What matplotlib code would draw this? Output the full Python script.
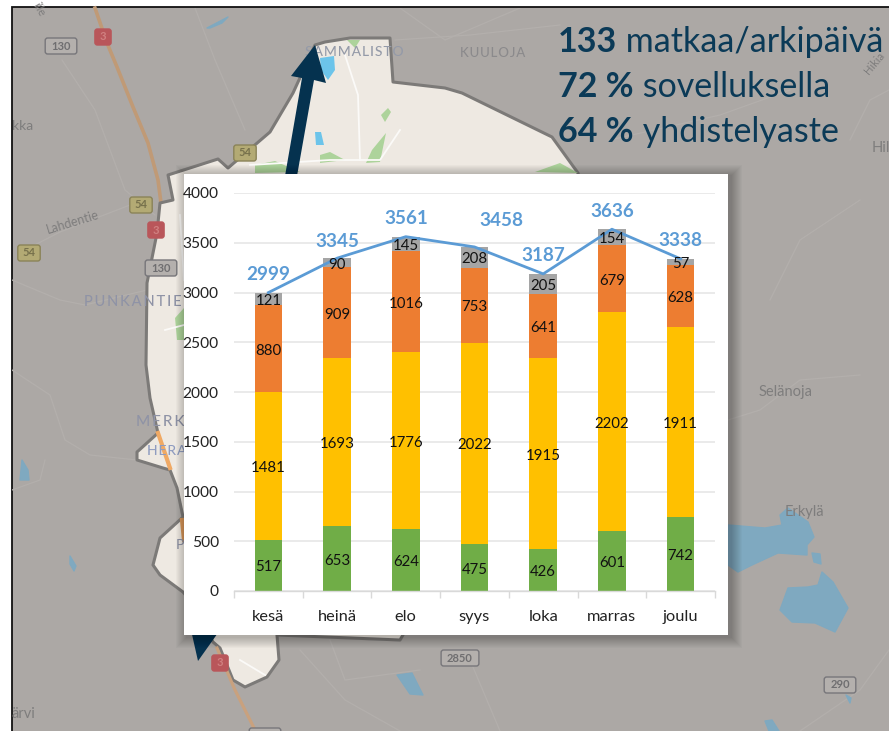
import matplotlib
matplotlib.use("Agg")
import matplotlib.pyplot as plt
from matplotlib.patches import Polygon, Rectangle, FancyBboxPatch

# ---------- chart data ----------
months = ["kesä", "heinä", "elo", "syys", "loka", "marras", "joulu"]
green = [517, 653, 624, 475, 426, 601, 742]
yellow = [1481, 1693, 1776, 2022, 1915, 2202, 1911]
orange = [880, 909, 1016, 753, 641, 679, 628]
gray = [121, 90, 145, 208, 205, 154, 57]
totals = [2999, 3345, 3561, 3458, 3187, 3636, 3338]
total_dx_px = [0, 0, 0, 27, 0, 0, 0]
total_dy_px = [18, 17, 18, 26, 18, 18, 18]
y_ticks = [0, 500, 1000, 1500, 2000, 2500, 3000, 3500, 4000]
headline = [("133", " matkaa/arkipäivä"), ("72 %", " sovelluksella"), ("64 %", " yhdistelyaste")]

# ---------- map decoration (image pixel coordinates) ----------
region = [(315,45),(325,42),(350,38),(390,38),(393,82),(445,88),(462,93),(552,137),(578,173),(600,300),
          (400,640),(277,635),(279,660),(267,677),(245,687),(233,680),(220,648),(213,642),(190,600),
          (183,592),(160,575),(153,565),(160,538),(183,517),(177,488),(170,470),(163,468),(137,460),
          (137,452),(158,433),(150,398),(146,365),(147,283),(157,233),(160,203),(173,200),(168,175),
          (218,159),(228,168),(270,132),(293,93)]
main_road = [(95,8),(107,43),(117,67),(133,107),(148,143),(158,180),(161,203)]
south_road = [(217,648),(235,690),(255,730)]
thin_roads = [
    [(195,8),(215,60),(245,130)], [(62,60),(95,110),(125,190),(155,215)], [(25,250),(60,232),(130,205)],
    [(12,280),(60,300),(85,305),(147,290)], [(12,370),(50,395),(65,440),(90,455),(137,460)],
    [(12,490),(40,480),(45,460)], [(400,8),(445,40),(520,8)], [(395,40),(470,35),(560,25)],
    [(728,420),(760,410),(800,380),(860,375)], [(300,650),(345,700),(400,731)], [(330,640),(345,680),(420,670)],
    [(470,660),(500,731)], [(800,731),(860,690),(889,650)], [(850,140),(870,100),(889,90)],
    [(610,140),(720,115),(790,90)], [(770,300),(800,240),(860,200)],
]
light_roads = [[(345,55),(358,95),(360,160)], [(250,165),(330,160),(380,160),(400,130)], [(180,215),(184,280)],
               [(165,330),(184,325)], [(240,660),(265,675)]]
lakes = [
    [(728,525),(765,528),(782,525),(780,515),(788,508),(808,522),(814,537),(807,545),(807,555),(778,553),(752,565),(738,572),(728,565)],
    [(822,572),(833,582),(848,608),(835,632),(815,623),(792,622),(780,610),(788,588),(808,587),(818,585)],
    [(812,553),(820,554),(821,564),(814,562)], [(397,675),(412,673),(423,695),(410,694)],
    [(765,721),(772,720),(779,731),(769,731)], [(846,695),(851,698),(850,703)],
    [(207,28),(228,17),(222,23),(210,28)], [(22,460),(28,470),(29,480),(20,480)], [(70,556),(76,566),(74,571),(70,564)],
]
bright_lakes = [[(320,58),(334,56),(335,70),(328,80),(321,70)], [(315,132),(321,132),(324,145),(316,145)]]
greens = [[(381,115),(388,108),(391,112),(385,122)], [(320,155),(330,152),(345,160),(320,163)],
          [(175,318),(184,308),(184,340),(177,340)], [(255,165),(275,161),(300,172),(255,173)], [(372,150),(386,133),(380,162),(366,163)],
          [(535,172),(560,163),(578,173)], [(347,40),(360,40),(355,48)]]
shields = [(61,46,"130","w"),(103,37,"3","r"),(141,205,"54","y"),(29,253,"54","y"),(245,153,"54","y"),
           (156,230,"3","r"),(161,268,"130","w"),(460,658,"2850","w"),(840,685,"290","w"),(220,663,"3","r"),(265,736,"","w")]
place_names = [(305,56,"S\u200aA\u200aM\u200aM\u200aA\u200aL\u200aI\u200aS\u200aT\u200aO",10,"#949aa8"),
               (460,57,"K\u200aU\u200aU\u200aL\u200aO\u200aJ\u200aA",9.5,"#8b8a8c"),
               (84,306,"P\u2009U\u2009N\u2009K\u2009A\u2009N\u2009T\u2009I\u2009E",10.5,"#8f93a6"),
               (136,426,"M\u2009E\u2009R\u2009K",11,"#8f93a6"),
               (147,455,"H\u200aE\u200aR\u200aA",10,"#8f9cc0"),(176,549,"P",10,"#8f93a6")]
map_labels = [(12,130,"kka",10,0),(48,234,"Lahdentie",9,17),(759,396,"Selänoja",10.5,0),(785,516,"Erkylä",10.5,0),
              (872,152,"Hil",10.5,0),(12,718,"ärvi",10.5,0),(869,75,"Hikia",8,50),(32,5,"ille",8,-60)]

plt.rcParams["font.family"] = ["Lato", "DejaVu Sans"]
fig = plt.figure(figsize=(8.89, 7.31), dpi=100, facecolor="white")
bg = fig.add_axes([0, 0, 1, 1])
bg.set_xlim(0, 889); bg.set_ylim(731, 0); bg.axis("off")

# map
bg.add_patch(Rectangle((11.5, 7), 880, 730, fc="#aca8a5", ec="#111111", lw=1.3, zorder=1))
clip = Rectangle((12, 8), 880, 730, transform=bg.transData)
for r in thin_roads:
    x, y = zip(*r); l, = bg.plot(x, y, color="#b3afac", lw=0.9, zorder=1.2); l.set_clip_path(clip)
for p in lakes:
    bg.add_patch(Polygon(p, closed=True, fc="#7fa9c0", ec="#7fa9c0", lw=1, joinstyle="round", zorder=1.3))
bg.add_patch(Polygon(region, closed=True, fc="#eee9e2", ec="#7c7a78", lw=2.2, joinstyle="round", zorder=1.5))
for p in greens:
    bg.add_patch(Polygon(p, closed=True, fc="#add39b", ec="none", zorder=1.6))
for r in light_roads:
    x, y = zip(*r); bg.plot(x, y, color="#fbfaf8", lw=1.3, zorder=1.6)
for p in bright_lakes:
    bg.add_patch(Polygon(p, closed=True, fc="#6cc4ea", ec="none", zorder=1.6))
x, y = zip(*main_road); bg.plot(x, y, color="#c09a76", lw=2.6, zorder=1.45)
x, y = zip(*south_road); bg.plot(x, y, color="#c9a17e", lw=2.3, zorder=1.7)
bg.plot([158, 170], [433, 468], color="#f0a964", lw=3, zorder=1.7)
bg.plot([182, 184], [520, 540], color="#d89858", lw=3, zorder=1.7)

for sx, sy, s, k in shields:
    fc, ec, tc = {"w": ("#b4b0ad", "#77767a", "#6f6e70"), "r": ("#b9565a", "#b9565a", "#d08080"),
                  "y": ("#b3aa74", "#8a8358", "#77714c")}[k]
    w = 7 + 6.2 * max(len(s), 3 if k == "w" else 1) + (6 if k == "w" else 3)
    bg.add_patch(FancyBboxPatch((sx - w / 2 + 2, sy - 6), w - 4, 12, boxstyle="round,pad=2,rounding_size=2.5",
                                fc=fc, ec=ec, lw=1, zorder=2))
    if s:
        bg.text(sx, sy, s, ha="center", va="center", fontsize=8, fontweight="bold", color=tc, zorder=2.1)
for tx, ty, s, fs, c in place_names:
    bg.text(tx, ty, s, fontsize=fs, color=c, ha="left", va="baseline", zorder=2.2, fontweight="medium")
for tx, ty, s, fs, rot in map_labels:
    t = bg.text(tx, ty, s, fontsize=fs, color="#7e7d7d", ha="left", va="baseline", rotation=rot,
                rotation_mode="anchor", zorder=2.2)
    t.set_clip_path(clip)

# double arrow passing behind the chart
navy = "#05324f"
bg.add_patch(Polygon([(315,45),(326,83),(314,80),(297,176),(285,176),(302,78),(291,76)], closed=True, fc=navy, ec="none", zorder=3))
bg.add_patch(Polygon([(198,661),(191,630),(220,630)], closed=True, fc=navy, ec="none", zorder=3))

# headline
for (bold, rest), base in zip(headline, [52, 97, 142]):
    t = bg.text(558, base, bold, fontsize=24.5, fontweight="bold", color="#0b3a57", va="baseline", zorder=4)
    fig.canvas.draw()
    ext = t.get_window_extent()
    bg.text(ext.x1, base, rest, fontsize=24.5, color="#0b3a57", va="baseline", zorder=4)

# chart panel with soft shadow
for e in range(11, 0, -1):
    bg.add_patch(Rectangle((184 - e + 3, 174 - e + 2), 544 + 2 * e, 461 + 2 * e, fc="black", ec="none", alpha=0.022, zorder=5))
bg.add_patch(Rectangle((184, 174), 544, 461, fc="white", ec="none", zorder=6))

# chart
ax = fig.add_axes([234 / 889, 1 - 591 / 731, (715 - 234) / 889, (591 - 193) / 731], zorder=10)
ax.patch.set_alpha(0)
pos = list(range(len(months)))
bottom = [0] * len(months)
for vals, col in zip([green, yellow, orange, gray], ["#70ad47", "#ffc000", "#ed7d31", "#a5a5a5"]):
    ax.bar(pos, vals, width=0.4, bottom=bottom, color=col, zorder=2)
    for i, v in enumerate(vals):
        ax.text(i, bottom[i] + v / 2 - 22, str(v), ha="center", va="center", fontsize=10.8, color="#111111", zorder=5)
    bottom = [b + v for b, v in zip(bottom, vals)]
ax.plot(pos, totals, color="#5b9bd5", lw=2, zorder=4, solid_joinstyle="round")
for i, v in enumerate(totals):
    ax.annotate(str(v), (i, v), xytext=(total_dx_px[i] * 0.72, total_dy_px[i] * 0.72), textcoords="offset points",
                ha="center", va="center", fontsize=13.6, fontweight="bold", color="#5b9bd5", zorder=6)
ax.set_xlim(-0.5, 6.5); ax.set_ylim(0, 4000)
ax.set_yticks(y_ticks); ax.set_xticks(pos, months)
ax.grid(axis="y", color="#e6e6e6", lw=1.2, zorder=0); ax.set_axisbelow(True)
for s in ["top", "right", "left"]:
    ax.spines[s].set_visible(False)
ax.spines["bottom"].set_color("#d9d9d9"); ax.spines["bottom"].set_linewidth(1)
ax.tick_params(axis="y", length=0, labelsize=11.2, labelcolor="#222222", pad=11)
ax.tick_params(axis="x", length=0, labelsize=11.8, labelcolor="#222222", pad=14)
ax.set_xticks([i - 0.5 for i in range(8)], minor=True)
ax.tick_params(axis="x", which="minor", length=5, color="#d9d9d9", width=1)

fig.savefig("out.png", dpi=100)
